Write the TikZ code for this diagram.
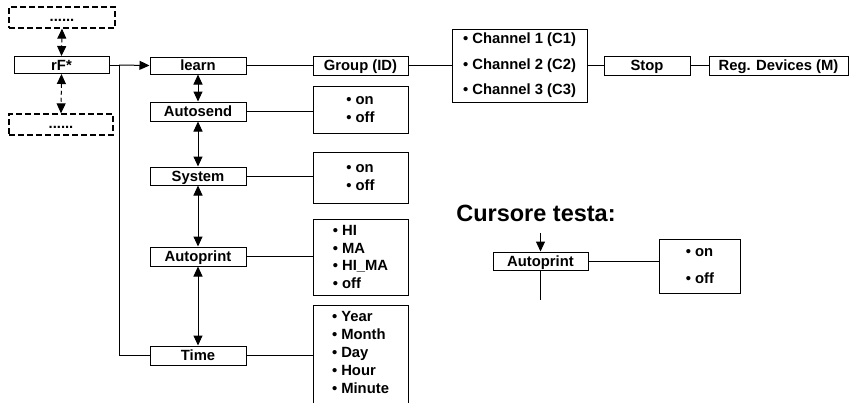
\documentclass[tikz,border=0pt]{standalone}
\usepackage{fontspec}
\setmainfont{Liberation Sans}
\usetikzlibrary{arrows.meta}
\begin{document}
\begin{tikzpicture}[x=1pt,y=-1pt,
  lbl/.style={font=\bfseries\fontsize{14.8}{17}\selectfont},
  box/.style={lbl,draw,line width=1pt,inner sep=0pt,text height=10.6pt,text depth=0pt},
  dbox/.style={box,line width=1.3pt,dash pattern=on 6pt off 3pt},
  optbox/.style={lbl,draw,line width=1pt,inner sep=0pt,align=left},
  conn/.style={line width=1pt},
  tip/.tip={Triangle[length=10pt,width=9pt]},
  arr/.style={conn,-tip},
  darr/.style={conn,tip-tip}
]
\useasboundingbox (0,0) rectangle (849,402);
\clip (0,0) rectangle (849,402);

% left column
\node[dbox,minimum width=106pt,minimum height=21pt,text height=8pt] (topdash) at (62,17.5) {......};
\node[box,minimum width=95pt,minimum height=17pt] (rf) at (61.5,65) {rF*};
\node[dbox,minimum width=104pt,minimum height=21pt,text height=8pt] (botdash) at (61,124.5) {......};

\node[box,minimum width=96pt,minimum height=17pt] (learn) at (198,65.5) {learn};
\node[box,minimum width=96pt,minimum height=19pt] (autosend) at (198,111.5) {Autosend};
\node[box,minimum width=96pt,minimum height=18pt] (system) at (198,176) {System};
\node[box,minimum width=96pt,minimum height=19pt] (autoprint) at (198,256.5) {Autoprint};
\node[box,minimum width=96pt,minimum height=19pt] (time) at (198,355.5) {Time};

% top row
\node[box,minimum width=95pt,minimum height=19pt] (group) at (360.5,65.5) {Group (ID)};
\node[optbox,minimum width=135pt,minimum height=73pt,
  font=\bfseries\fontsize{14.8}{25.5}\selectfont] (channel) at (519.5,65.5)
  {• Channel 1 (C1)\\• Channel 2 (C2)\\• Channel 3 (C3)};
\node[box,minimum width=86pt,minimum height=19pt] (stop) at (647,65.5) {Stop};
\node[box,minimum width=139pt,minimum height=19pt] (reg) at (778.5,65.5) {Reg. Devices (M)};

% option boxes
\node[optbox,minimum width=95pt,minimum height=47pt,
  font=\bfseries\fontsize{14.8}{18}\selectfont] (optA) at (360.5,109.5) {• on\\• off};
\node[optbox,minimum width=95pt,minimum height=51pt,
  font=\bfseries\fontsize{14.8}{18}\selectfont] (optS) at (360.5,177.5) {• on\\• off};
\node[optbox,minimum width=95pt,minimum height=76pt,
  font=\bfseries\fontsize{14.8}{17.7}\selectfont] (optP) at (360.5,257) {• HI\\• MA\\• HI\_MA\\• off};
\node[optbox,minimum width=95pt,minimum height=110pt] (optT) at (360.5,360) {};
\node[lbl,align=left,inner sep=0pt,font=\bfseries\fontsize{14.8}{18}\selectfont] (optTtext) at (360.5,352)
  {• Year\\• Month\\• Day\\• Hour\\• Minute};

% Cursore testa
\node[font=\bfseries\fontsize{23.5}{26}\selectfont,inner sep=0pt] (title) at (536,213) {Cursore testa:};
\node[box,minimum width=95pt,minimum height=18pt] (ap2) at (540.5,261) {Autoprint};
\node[optbox,minimum width=81pt,minimum height=54pt,
  font=\bfseries\fontsize{14.8}{27}\selectfont] (opt2) at (700,266) {• on\\• off};
\coordinate (ap2in) at (540.5,233);
\coordinate (ap2out) at (540.5,300);

% connectors
\coordinate (split) at (119,65);
\draw[conn] (rf.east) -- (split);
\draw[arr] (split) -- (learn.west);
\draw[conn] (split) |- (time.west);

\draw[darr,dash pattern=on 4pt off 3pt] (topdash.south) -- (rf.north);
\draw[darr,dash pattern=on 4pt off 3pt] (rf.south) -- (botdash.north);

\draw[darr] (learn.south) -- (autosend.north);
\draw[darr] (autosend.south) -- (system.north);
\draw[darr] (system.south) -- (autoprint.north);
\draw[darr] (autoprint.south) -- (time.north);

\draw[conn] (learn.east) -- (group.west);
\draw[conn] (group.east) -- (channel.west);
\draw[conn] (channel.east) -- (stop.west);
\draw[conn] (stop.east) -- (reg.west);

\draw[conn] (autosend.east) -- (autosend.east -| optA.west);
\draw[conn] (system.east) -- (system.east -| optS.west);
\draw[conn] (autoprint.east) -- (autoprint.east -| optP.west);
\draw[conn] (time.east) -- (time.east -| optT.west);

\draw[arr] (ap2in) -- (ap2.north);
\draw[conn] (ap2.south) -- (ap2out);
\draw[conn] (ap2.east) -- (ap2.east -| opt2.west);
\end{tikzpicture}
\end{document}
